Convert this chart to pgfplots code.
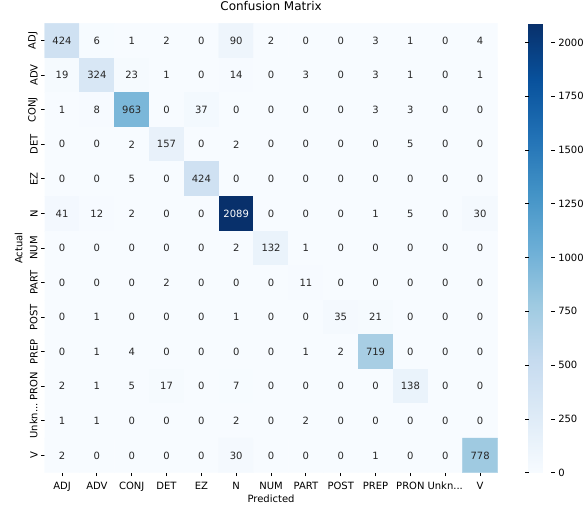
\documentclass[border=0pt]{standalone}
\usepackage{fontspec}
\setmainfont{DejaVu Sans}
\usepackage{pgfplots}
\pgfplotsset{compat=1.18}
\usepackage{pgfplotstable}

\definecolor{annot}{HTML}{262626}
\pgfplotsset{
  /pgf/number format/assume math mode=true,
  /pgf/number format/1000 sep={},
}

% confusion matrix, long format: x = predicted, y = actual
\pgfplotstableread[row sep=\\]{
x y c \\
0 0 424 \\ 1 0 6 \\ 2 0 1 \\ 3 0 2 \\ 4 0 0 \\ 5 0 90 \\ 6 0 2 \\ 7 0 0 \\ 8 0 0 \\ 9 0 3 \\ 10 0 1 \\ 11 0 0 \\ 12 0 4 \\
0 1 19 \\ 1 1 324 \\ 2 1 23 \\ 3 1 1 \\ 4 1 0 \\ 5 1 14 \\ 6 1 0 \\ 7 1 3 \\ 8 1 0 \\ 9 1 3 \\ 10 1 1 \\ 11 1 0 \\ 12 1 1 \\
0 2 1 \\ 1 2 8 \\ 2 2 963 \\ 3 2 0 \\ 4 2 37 \\ 5 2 0 \\ 6 2 0 \\ 7 2 0 \\ 8 2 0 \\ 9 2 3 \\ 10 2 3 \\ 11 2 0 \\ 12 2 0 \\
0 3 0 \\ 1 3 0 \\ 2 3 2 \\ 3 3 157 \\ 4 3 0 \\ 5 3 2 \\ 6 3 0 \\ 7 3 0 \\ 8 3 0 \\ 9 3 0 \\ 10 3 5 \\ 11 3 0 \\ 12 3 0 \\
0 4 0 \\ 1 4 0 \\ 2 4 5 \\ 3 4 0 \\ 4 4 424 \\ 5 4 0 \\ 6 4 0 \\ 7 4 0 \\ 8 4 0 \\ 9 4 0 \\ 10 4 0 \\ 11 4 0 \\ 12 4 0 \\
0 5 41 \\ 1 5 12 \\ 2 5 2 \\ 3 5 0 \\ 4 5 0 \\ 5 5 2089 \\ 6 5 0 \\ 7 5 0 \\ 8 5 0 \\ 9 5 1 \\ 10 5 5 \\ 11 5 0 \\ 12 5 30 \\
0 6 0 \\ 1 6 0 \\ 2 6 0 \\ 3 6 0 \\ 4 6 0 \\ 5 6 2 \\ 6 6 132 \\ 7 6 1 \\ 8 6 0 \\ 9 6 0 \\ 10 6 0 \\ 11 6 0 \\ 12 6 0 \\
0 7 0 \\ 1 7 0 \\ 2 7 0 \\ 3 7 2 \\ 4 7 0 \\ 5 7 0 \\ 6 7 0 \\ 7 7 11 \\ 8 7 0 \\ 9 7 0 \\ 10 7 0 \\ 11 7 0 \\ 12 7 0 \\
0 8 0 \\ 1 8 1 \\ 2 8 0 \\ 3 8 0 \\ 4 8 0 \\ 5 8 1 \\ 6 8 0 \\ 7 8 0 \\ 8 8 35 \\ 9 8 21 \\ 10 8 0 \\ 11 8 0 \\ 12 8 0 \\
0 9 0 \\ 1 9 1 \\ 2 9 4 \\ 3 9 0 \\ 4 9 0 \\ 5 9 0 \\ 6 9 0 \\ 7 9 1 \\ 8 9 2 \\ 9 9 719 \\ 10 9 0 \\ 11 9 0 \\ 12 9 0 \\
0 10 2 \\ 1 10 1 \\ 2 10 5 \\ 3 10 17 \\ 4 10 0 \\ 5 10 7 \\ 6 10 0 \\ 7 10 0 \\ 8 10 0 \\ 9 10 0 \\ 10 10 138 \\ 11 10 0 \\ 12 10 0 \\
0 11 1 \\ 1 11 1 \\ 2 11 0 \\ 3 11 0 \\ 4 11 0 \\ 5 11 2 \\ 6 11 0 \\ 7 11 2 \\ 8 11 0 \\ 9 11 0 \\ 10 11 0 \\ 11 11 0 \\ 12 11 0 \\
0 12 2 \\ 1 12 0 \\ 2 12 0 \\ 3 12 0 \\ 4 12 0 \\ 5 12 30 \\ 6 12 0 \\ 7 12 0 \\ 8 12 0 \\ 9 12 1 \\ 10 12 0 \\ 11 12 0 \\ 12 12 778 \\
}\cm

\begin{document}
\begin{tikzpicture}
\begin{axis}[
  name=cm,
  scale only axis, width=452.9pt, height=449.4pt,
  xmin=-0.5, xmax=12.5, ymin=-0.5, ymax=12.5, y dir=reverse,
  xtick={0,1,2,3,4,5,6,7,8,9,10,11,12}, ytick={0,1,2,3,4,5,6,7,8,9,10,11,12},
  xticklabels={ADJ,ADV,CONJ,DET,EZ,N,NUM,PART,POST,PREP,PRON,{Unkn.{}.{}.},V},
  yticklabels={ADJ,ADV,CONJ,DET,EZ,N,NUM,PART,POST,PREP,PRON,{Unkn.{}.{}.},V},
  xtick pos=bottom, ytick pos=left, tick align=outside,
  major tick length=3.5pt, tick style={black, line width=0.8pt},
  axis line style={draw=none},
  ticklabel style={font=\fontsize{10}{12}\selectfont},
  xticklabel style={yshift=-2pt},
  yticklabel style={rotate=90, anchor=south},
  title={Confusion Matrix},
  title style={font=\fontsize{12}{14}\selectfont, at={(axis description cs:0.5,1.0245)}, anchor=center},
  xlabel={Predicted},
  xlabel style={font=\fontsize{10}{12}\selectfont, at={(axis description cs:0.5,-0.058)}, anchor=center},
  ylabel={Actual},
  ylabel style={font=\fontsize{10}{12}\selectfont, at={(axis description cs:-0.0575,0.5)}, anchor=center},
  colormap={blues}{rgb255=(247,251,255) rgb255=(222,235,247) rgb255=(198,219,239)
    rgb255=(158,202,225) rgb255=(107,174,214) rgb255=(66,146,198)
    rgb255=(33,113,181) rgb255=(8,81,156) rgb255=(8,48,107)},
  point meta min=0, point meta max=2089,
  colorbar,
  colorbar style={
    at={(parent axis.north east)}, anchor=north west, xshift=22.5pt,
    width=22.7pt,
    ytick={0,250,500,750,1000,1250,1500,1750,2000},
    axis line style={draw=none},
    tick align=outside, major tick length=3.5pt, tick style={black, line width=0.8pt},
    yticklabel style={font=\fontsize{10}{12}\selectfont},
    scaled y ticks=false,
  },
]
\addplot[matrix plot*, mesh/cols=13, point meta=\thisrow{c}] table[x=x, y=y] {\cm};

% cell annotations: dark text on light cells
\addplot[only marks, mark=*, mark size=0pt, mark options={draw=none, fill=none},
  point meta=\thisrow{c},
  x filter/.expression={\thisrow{c}>1500 ? nan : x},
  nodes near coords,
  every node near coord/.append style={anchor=center, text=annot, font=\fontsize{10}{12}\selectfont},
] table[x=x, y=y] {\cm};
% white text on the dark cell
\addplot[only marks, mark=*, mark size=0pt, mark options={draw=none, fill=none},
  point meta=\thisrow{c},
  x filter/.expression={\thisrow{c}>1500 ? x : nan},
  nodes near coords,
  every node near coord/.append style={anchor=center, text=white, font=\fontsize{10}{12}\selectfont},
] table[x=x, y=y] {\cm};
\end{axis}
\pgfresetboundingbox
\path (cm.south west) ++(-44.6pt,-34.3pt) rectangle ++(587pt,507pt);
\end{tikzpicture}
\end{document}
